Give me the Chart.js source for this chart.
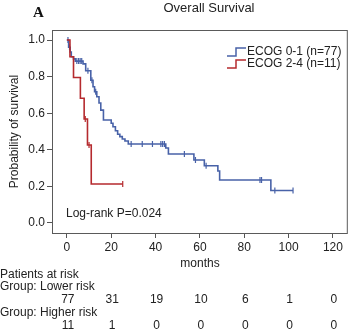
<!DOCTYPE html>
<html>
<head>
<meta charset="utf-8">
<script src="https://cdn.jsdelivr.net/npm/chart.js@4/dist/chart.umd.min.js"></script>
<style>
  html, body { margin: 0; padding: 0; background: #fff; }
  #wrap { width: 353px; height: 332px; }
</style>
</head>
<body>
<div id="wrap"><canvas id="km" width="353" height="332"></canvas></div>
<script>
// Kaplan-Meier steps (months, survival after the step)
const lowTimes = [0, 0.8, 1.5, 2.0, 3.0, 3.8, 7.3, 8.5, 10.8, 11.8, 12.5, 13.5, 14.5, 15.3, 16.5,
  20.0, 20.8, 21.9, 22.9, 23.9, 25.0, 26.2, 27.7, 44.6, 45.8, 57.3, 62.0, 68.1, 68.9, 92.0, 102];
const lowSurv = [1.0, 0.961, 0.935, 0.909, 0.897, 0.885, 0.870, 0.832, 0.780, 0.745, 0.717, 0.690, 0.656, 0.617, 0.563,
  0.545, 0.526, 0.504, 0.485, 0.472, 0.459, 0.448, 0.432, 0.410, 0.377, 0.344, 0.313, 0.284, 0.235, 0.177, 0.177];
const lowCensored = [0.5, 1.2, 4.5, 5.3, 6.0, 6.7, 9.5, 11.3, 13.0, 29, 34, 38.6, 42.4, 43.2, 44.0, 53, 58, 62.8, 87.1, 87.8, 93.8, 102];

const highTimes = [0, 1.4, 3.0, 6.1, 7.8, 9.3, 11.0, 25.2];
const highSurv = [1.0, 0.909, 0.795, 0.682, 0.568, 0.426, 0.213, 0.213];
const highCensored = [8.3, 10.0, 25.2];

// patients at risk
const riskTimes = [0, 20, 40, 60, 80, 100, 120];
const riskLow = [77, 31, 19, 10, 6, 1, 0];
const riskHigh = [11, 1, 0, 0, 0, 0, 0];

const xTicks = [0, 20, 40, 60, 80, 100, 120];
const yTicks = [0, 0.2, 0.4, 0.6, 0.8, 1.0];

const BLUE = '#4862a8';
const RED = '#b52a2e';
const FONT = '"Liberation Sans", Arial, sans-serif';

function survAt(times, surv, t) {
  let s = surv[0];
  for (let i = 0; i < times.length; i++) {
    if (times[i] <= t) s = surv[i];
  }
  return s;
}

function stepPoints(times, surv) {
  return times.map((t, i) => ({ x: t, y: surv[i] }));
}
function censorPoints(times, surv, cens) {
  return cens.map(t => ({ x: t, y: survAt(times, surv, t) }));
}

// frame, title, legend and risk table
const extras = {
  id: 'extras',
  afterDraw(chart) {
    const ctx = chart.ctx;
    const a = chart.chartArea;
    const xs = chart.scales.x;
    ctx.save();
    ctx.strokeStyle = '#5a5a5a';
    ctx.lineWidth = 1;
    ctx.strokeRect(a.left + 0.5, a.top + 0.5, a.right - a.left - 1, a.bottom - a.top);

    ctx.fillStyle = '#111';
    ctx.font = 'bold 15px "Liberation Serif", "DejaVu Serif", serif';
    ctx.textAlign = 'left';
    ctx.textBaseline = 'middle';
    ctx.fillText('A', 33, 13);

    ctx.font = '13px ' + FONT;
    ctx.fillStyle = '#222';
    ctx.textAlign = 'center';
    ctx.fillText('Overall Survival', 209, 8);

    ctx.font = '12px ' + FONT;
    // y axis title
    ctx.save();
    ctx.translate(15, (a.top + a.bottom) / 2);
    ctx.rotate(-Math.PI / 2);
    ctx.fillText('Probability of survival', 0, 0);
    ctx.restore();

    ctx.fillText('months', 200, 264);

    ctx.textAlign = 'left';
    ctx.fillText('Log-rank P=0.024', 66, 214);

    // legend
    const legend = [['ECOG 0-1 (n=77)', BLUE, 52], ['ECOG 2-4 (n=11)', RED, 64]];
    legend.forEach(([label, col, y]) => {
      ctx.strokeStyle = col;
      ctx.lineWidth = 1.5;
      ctx.beginPath();
      ctx.moveTo(227, y + 4);
      ctx.lineTo(236, y + 4);
      ctx.lineTo(236, y - 4);
      ctx.lineTo(246, y - 4);
      ctx.stroke();
      ctx.fillStyle = '#222';
      ctx.fillText(label, 247, y);
    });

    // risk table
    ctx.fillText('Patients at risk', 0, 275);
    ctx.fillText('Group: Lower risk', 0, 287);
    ctx.fillText('Group: Higher risk', 0, 313);
    ctx.textAlign = 'center';
    riskTimes.forEach((t, i) => {
      const px = xs.getPixelForValue(t) + 1;
      ctx.fillText(String(riskLow[i]), px, 300);
      ctx.fillText(String(riskHigh[i]), px, 326);
    });
    ctx.restore();
  }
};

new Chart(document.getElementById('km'), {
  type: 'scatter',
  data: {
    datasets: [
      {
        label: 'ECOG 2-4 (n=11)',
        data: stepPoints(highTimes, highSurv),
        showLine: true, stepped: 'before',
        borderColor: RED, borderWidth: 1.6, pointRadius: 0, fill: false
      },
      {
        label: 'ECOG 0-1 (n=77)',
        data: stepPoints(lowTimes, lowSurv),
        showLine: true, stepped: 'before',
        borderColor: BLUE, borderWidth: 1.6, pointRadius: 0, fill: false
      },
      {
        label: 'cens high',
        data: censorPoints(highTimes, highSurv, highCensored),
        showLine: false, pointStyle: 'line', rotation: 90, pointRadius: 3,
        borderColor: RED, borderWidth: 1.2
      },
      {
        label: 'cens low',
        data: censorPoints(lowTimes, lowSurv, lowCensored),
        showLine: false, pointStyle: 'line', rotation: 90, pointRadius: 3,
        borderColor: BLUE, borderWidth: 1.2
      }
    ]
  },
  options: {
    responsive: false,
    animation: false,
    layout: { padding: { top: 30, right: 3, left: 0, bottom: 0 } },
    plugins: { legend: { display: false }, tooltip: { enabled: false } },
    scales: {
      x: {
        type: 'linear', min: -6.7, max: 126.7,
        afterBuildTicks: s => { s.ticks = xTicks.map(v => ({ value: v })); },
        afterFit: s => { s.height = 99; },
        grid: { drawOnChartArea: false, tickLength: 5, color: '#555' },
        border: { display: false },
        ticks: { color: '#222', font: { family: FONT, size: 12 }, padding: 2, maxRotation: 0 }
      },
      y: {
        type: 'linear', min: -0.055, max: 1.055,
        afterBuildTicks: s => { s.ticks = yTicks.map(v => ({ value: v })); },
        afterFit: s => { s.width = 52; },
        grid: { drawOnChartArea: false, tickLength: 5, color: '#555' },
        border: { display: false },
        ticks: { color: '#222', font: { family: FONT, size: 12 }, padding: 2,
          callback: v => v.toFixed(1) }
      }
    }
  },
  plugins: [extras]
});
</script>
</body>
</html>
